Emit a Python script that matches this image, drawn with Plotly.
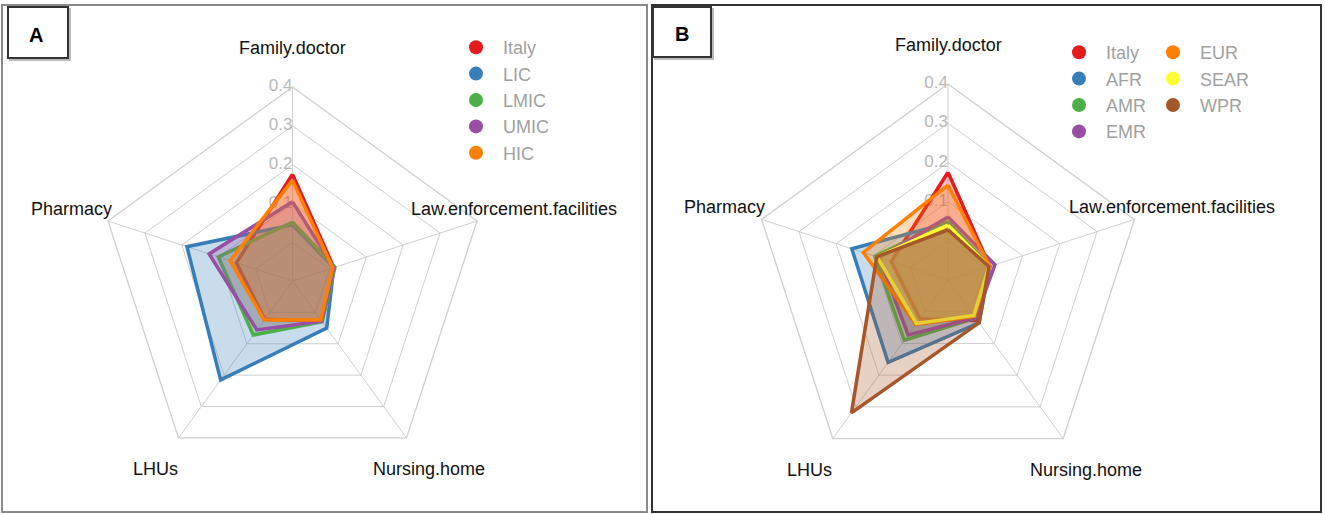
import math
import plotly.graph_objects as go

categories = ["Family.doctor", "Pharmacy", "LHUs", "Nursing.home", "Law.enforcement.facilities"]
tick_vals = [0, 0.1, 0.2, 0.3, 0.4]
tick_text = ["0", "0.1", "0.2", "0.3", "0.4"]

# Panel A (income groups)
groups_a = ["Italy", "LIC", "LMIC", "UMIC", "HIC"]
italy = [0.175, 0.052, 0.022, 0.028, 0.012]
lic = [0.045, 0.186, 0.215, 0.050, 0.012]
lmic = [0.052, 0.101, 0.072, 0.030, 0.015]
umic = [0.104, 0.126, 0.056, 0.028, 0.012]
hic = [0.160, 0.069, 0.024, 0.024, 0.009]
values_a = [italy, lic, lmic, umic, hic]

# Panel B (WHO regions)
groups_b = ["Italy", "AFR", "AMR", "EMR", "EUR", "SEAR", "WPR"]
afr = [0.045, 0.158, 0.160, 0.035, 0.012]
amr = [0.049, 0.096, 0.090, 0.020, 0.012]
emr = [0.061, 0.085, 0.073, 0.020, 0.026]
eur = [0.142, 0.127, 0.040, 0.015, 0.012]
sear = [0.040, 0.090, 0.037, 0.012, 0.010]
wpr = [0.028, 0.091, 0.319, 0.035, 0.010]
values_b = [italy, afr, amr, emr, eur, sear, wpr]

colors = {
    "Italy": "#E41A1C", "LIC": "#377EB8", "LMIC": "#4DAF4A", "UMIC": "#984EA3", "HIC": "#FF7F00",
    "AFR": "#377EB8", "AMR": "#4DAF4A", "EMR": "#984EA3", "EUR": "#FF7F00", "SEAR": "#FFFF33", "WPR": "#A65628",
}

FONT = "Liberation Sans, Arial"
W, H = 1325, 514
panels = {"polar": (292.5, 281, 194), "polar2": (948, 280, 196)}


def rgba(hex_color, a):
    h = hex_color.lstrip("#")
    return "rgba(%d,%d,%d,%.2f)" % (int(h[0:2], 16), int(h[2:4], 16), int(h[4:6], 16), a)


fig = go.Figure()

for subplot in panels:
    # radial axis labels (drawn under the polygons)
    fig.add_trace(go.Scatterpolar(
        r=tick_vals, theta=[categories[0]] * len(tick_vals), text=tick_text,
        mode="text", textposition="middle left",
        textfont=dict(color="#b8b8b8", size=17, family=FONT),
        showlegend=False, hoverinfo="skip", subplot=subplot, cliponaxis=False))


def add_panel(groups, values, subplot, legend_of):
    for g, v in zip(groups, values):
        c = colors[g]
        fig.add_trace(go.Scatterpolar(
            r=v + [v[0]], theta=categories + [categories[0]],
            mode="lines", fill="toself", fillcolor=rgba(c, 0.27),
            line=dict(color=c, width=3.5), name=g, showlegend=False,
            subplot=subplot))
    for g in groups:
        fig.add_trace(go.Scatterpolar(
            r=[None], theta=[None], mode="markers",
            marker=dict(color=colors[g], size=14), name=g,
            legendgroup=subplot + g,
            subplot=subplot, legend=legend_of(g)))


add_panel(groups_a, values_a, "polar", lambda g: "legend")
add_panel(groups_b, values_b, "polar2",
          lambda g: "legend2" if g in ["Italy", "AFR", "AMR", "EMR"] else "legend3")

polar_common = dict(
    gridshape="linear", bgcolor="rgba(0,0,0,0)",
    radialaxis=dict(range=[-0.1, 0.4], tickvals=tick_vals, showticklabels=False,
                    showline=False, ticks="", gridcolor="#cfcfcf", gridwidth=1.3),
    angularaxis=dict(type="category", categoryarray=categories, rotation=90,
                     direction="counterclockwise", showticklabels=False, ticks="",
                     gridcolor="#cfcfcf", gridwidth=1.3, linecolor="#cfcfcf", linewidth=1.3),
)


def dom(cx, cy, R):
    return dict(x=[(cx - R) / W, (cx + R) / W], y=[1 - (cy + R) / H, 1 - (cy - R) / H])


legend_font = dict(color="#a0a0a0", size=18, family=FONT)
legend_common = dict(xanchor="left", yanchor="top", font=legend_font,
                     bgcolor="rgba(0,0,0,0)", tracegroupgap=0, itemwidth=44)

fig.update_layout(
    width=W, height=H, margin=dict(l=0, r=0, t=0, b=0),
    paper_bgcolor="white", plot_bgcolor="white",
    polar=dict(domain=dom(*panels["polar"]), **polar_common),
    polar2=dict(domain=dom(*panels["polar2"]), **polar_common),
    legend=dict(x=449 / W, y=1 - 29 / H, **legend_common),
    legend2=dict(x=1052 / W, y=1 - 34 / H, **legend_common),
    legend3=dict(x=1146 / W, y=1 - 34 / H, **legend_common),
    showlegend=True,
)

# category labels placed at 1.2 x radius (as in fmsb radar charts)
for subplot, (cx, cy, R) in panels.items():
    for i, cat in enumerate(categories):
        ang = math.radians(90 + 72 * i)
        px = cx + 1.2 * R * math.cos(ang)
        py = cy - 1.2 * R * math.sin(ang)
        fig.add_annotation(x=px / W, y=1 - py / H, xref="paper", yref="paper", text=cat,
                           showarrow=False, xanchor="center", yanchor="middle",
                           font=dict(size=18, color="#111111", family=FONT))

# panel frames and label boxes
shapes = [
    dict(type="rect", xref="paper", yref="paper", x0=2 / W, x1=647 / W, y0=1 - 512 / H, y1=1 - 5 / H,
         line=dict(color="#8a8a8a", width=2)),
    dict(type="rect", xref="paper", yref="paper", x0=652 / W, x1=1321 / W, y0=1 - 512 / H, y1=1 - 5 / H,
         line=dict(color="#333333", width=2)),
    dict(type="rect", xref="paper", yref="paper", x0=10 / W, x1=70 / W, y0=1 - 60 / H, y1=1 - 9 / H,
         line=dict(color="#bbbbbb", width=2), fillcolor="#bbbbbb"),
    dict(type="rect", xref="paper", yref="paper", x0=8 / W, x1=68 / W, y0=1 - 58 / H, y1=1 - 7 / H,
         line=dict(color="#333333", width=2), fillcolor="white"),
    dict(type="rect", xref="paper", yref="paper", x0=655 / W, x1=713 / W, y0=1 - 59 / H, y1=1 - 9 / H,
         line=dict(color="#bbbbbb", width=2), fillcolor="#bbbbbb"),
    dict(type="rect", xref="paper", yref="paper", x0=653 / W, x1=711 / W, y0=1 - 57 / H, y1=1 - 7 / H,
         line=dict(color="#333333", width=2), fillcolor="white"),
]
fig.update_layout(shapes=shapes)
fig.add_annotation(x=36 / W, y=1 - 35 / H, xref="paper", yref="paper", text="<b>A</b>",
                   showarrow=False, xanchor="center", yanchor="middle",
                   font=dict(size=20, color="black", family=FONT))
fig.add_annotation(x=682 / W, y=1 - 34 / H, xref="paper", yref="paper", text="<b>B</b>",
                   showarrow=False, xanchor="center", yanchor="middle",
                   font=dict(size=20, color="black", family=FONT))

fig.write_html("out.html", config={"displayModeBar": False},
               post_script="document.body.style.margin='0';")
